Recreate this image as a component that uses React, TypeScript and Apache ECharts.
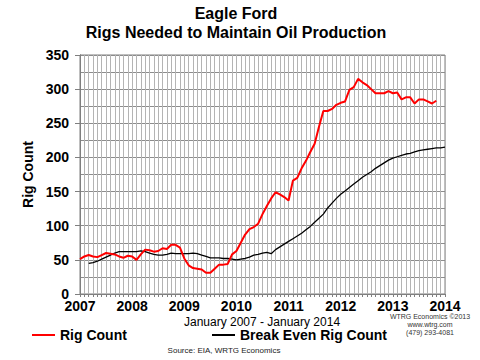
import React, { useEffect, useRef } from "react";
import * as echarts from "echarts";

const years = ["2007", "2008", "2009", "2010", "2011", "2012", "2013", "2014"];
const monthsPerYear = 12;

// Monthly rig count, Jan 2007 - Nov 2013
const rigCount = [
  51, 55, 57, 55, 54, 57, 60, 59, 58, 55, 53, 56,
  55, 50, 58, 65, 64, 62, 63, 67, 66, 72, 72, 68,
  52, 42, 38, 37, 36, 31, 31, 37, 43, 43, 44, 58,
  63, 75, 87, 95, 98, 103, 117, 129, 140, 149, 146, 142,
  137, 166, 170, 184, 195, 208, 220, 245, 268, 268, 271, 277,
  280, 282, 299, 303, 315, 310, 306, 300, 294, 294, 294, 297,
  294, 295, 285, 288, 288, 279, 285, 285, 282, 279, 283,
];

// Monthly break-even rig count, Jan 2007 - Jan 2014 (starts Mar 2007)
const breakEven = [
  null, null, 45, 46, 48, 51, 54, 57, 60, 62, 62, 62,
  62, 62, 63, 62, 60, 58, 57, 57, 58, 60, 59, 59,
  59, 59, 60, 59, 57, 55, 53, 53, 53, 52, 52, 51,
  50, 51, 52, 54, 57, 58, 60, 61, 59, 65, 69, 73,
  77, 81, 85, 89, 94, 99, 105, 111, 117, 126, 133, 140,
  146, 151, 156, 161, 166, 171, 175, 179, 184, 188, 192, 196,
  199, 201, 203, 205, 206, 208, 210, 211, 212, 213, 214, 214,
  215,
];

const yTicks = [0, 50, 100, 150, 200, 250, 300, 350];

const FONT = "'Liberation Sans', Arial, sans-serif";
const totalMonths = (years.length - 1) * monthsPerYear;

export default function App() {
  const ref = useRef<HTMLDivElement>(null);
  useEffect(() => {
    if (!ref.current) return;
    const chart = echarts.init(ref.current, null, { renderer: "svg" });
    const rigData = rigCount.map((v, i) => [i, v]);
    const beData = breakEven.map((v, i) => [i, v === null ? "-" : v]);
    const yMin = yTicks[0];
    const yMax = yTicks[yTicks.length - 1];
    const boldLabel = {
      color: "#000",
      fontWeight: "bold" as const,
      fontSize: 14,
      fontFamily: FONT,
    };
    chart.setOption({
      animation: false,
      backgroundColor: "#ffffff",
      textStyle: { fontFamily: FONT },
      grid: {
        left: 80,
        right: 35,
        top: 55,
        bottom: 66,
        show: true,
        borderColor: "#7f7f7f",
        borderWidth: 1,
      },
      xAxis: {
        type: "value",
        min: 0,
        max: totalMonths,
        interval: 1,
        axisLine: { show: true, onZero: false, lineStyle: { color: "#7f7f7f", width: 1 } },
        axisTick: { show: true, length: 3, lineStyle: { color: "#7f7f7f" } },
        axisLabel: {
          ...boldLabel,
          margin: 5,
          showMinLabel: true,
          showMaxLabel: true,
          formatter: (v: number) =>
            v % monthsPerYear === 0 ? years[v / monthsPerYear] : "",
        },
        splitLine: { show: true, lineStyle: { color: "#b4b4b4", width: 1 } },
      },
      yAxis: [
        {
          type: "value",
          min: yMin,
          max: yMax,
          interval: 25,
          axisLine: { show: true, lineStyle: { color: "#7f7f7f", width: 1 } },
          axisTick: { show: false },
          axisLabel: { show: false },
          splitLine: { show: true, lineStyle: { color: "#8c8c8c", width: 1 } },
        },
        {
          type: "value",
          position: "left",
          min: yMin,
          max: yMax,
          interval: 50,
          name: "Rig Count",
          nameLocation: "middle",
          nameGap: 30,
          nameTextStyle: boldLabel,
          axisLine: { show: true, lineStyle: { color: "#7f7f7f", width: 1 } },
          axisTick: { show: true, length: 5, lineStyle: { color: "#7f7f7f" } },
          axisLabel: { ...boldLabel, margin: 11 },
          splitLine: { show: false },
        },
      ],
      legend: [
        {
          data: ["Rig Count"],
          left: 27,
          top: 323,
          icon: "rect",
          itemWidth: 23,
          itemHeight: 2,
          itemGap: 5,
          textStyle: boldLabel,
        },
        {
          data: ["Break Even Rig Count"],
          left: 207,
          top: 323,
          icon: "rect",
          itemWidth: 23,
          itemHeight: 2,
          itemGap: 5,
          textStyle: boldLabel,
        },
      ],
      series: [
        {
          name: "Rig Count",
          type: "line",
          data: rigData,
          yAxisIndex: 0,
          showSymbol: false,
          symbol: "none",
          lineStyle: { color: "#ff0000", width: 2 },
          itemStyle: { color: "#ff0000" },
          z: 3,
        },
        {
          name: "Break Even Rig Count",
          type: "line",
          data: beData,
          yAxisIndex: 0,
          showSymbol: false,
          symbol: "none",
          lineStyle: { color: "#000000", width: 1.3 },
          itemStyle: { color: "#000000" },
          z: 2,
        },
      ],
      graphic: [
        {
          type: "text",
          x: 236,
          y: 13,
          style: {
            text: "Eagle Ford",
            font: `bold 16px ${FONT}`,
            fill: "#000",
            align: "center",
            verticalAlign: "middle",
          },
        },
        {
          type: "text",
          x: 236,
          y: 32,
          style: {
            text: "Rigs Needed to Maintain Oil Production",
            font: `bold 16px ${FONT}`,
            fill: "#000",
            align: "center",
            verticalAlign: "middle",
          },
        },
        {
          type: "text",
          x: 262,
          y: 322,
          style: {
            text: "January 2007 - January 2014",
            font: `12px ${FONT}`,
            fill: "#000",
            align: "center",
            verticalAlign: "middle",
          },
        },
        {
          type: "text",
          x: 430,
          y: 316,
          style: {
            text: "WTRG Economics ©2013",
            font: `7px ${FONT}`,
            fill: "#333",
            align: "center",
            verticalAlign: "middle",
          },
        },
        {
          type: "text",
          x: 430,
          y: 324,
          style: {
            text: "www.wtrg.com",
            font: `7px ${FONT}`,
            fill: "#333",
            align: "center",
            verticalAlign: "middle",
          },
        },
        {
          type: "text",
          x: 430,
          y: 332,
          style: {
            text: "(479) 293-4081",
            font: `7px ${FONT}`,
            fill: "#333",
            align: "center",
            verticalAlign: "middle",
          },
        },
        {
          type: "text",
          x: 224,
          y: 350,
          style: {
            text: "Source: EIA, WRTG Economics",
            font: `8px ${FONT}`,
            fill: "#222",
            align: "center",
            verticalAlign: "middle",
          },
        },
      ],
    });
    return () => chart.dispose();
  }, []);
  return (
    <div
      ref={ref}
      style={{ position: "absolute", left: 0, top: 0, width: 480, height: 360 }}
    />
  );
}
